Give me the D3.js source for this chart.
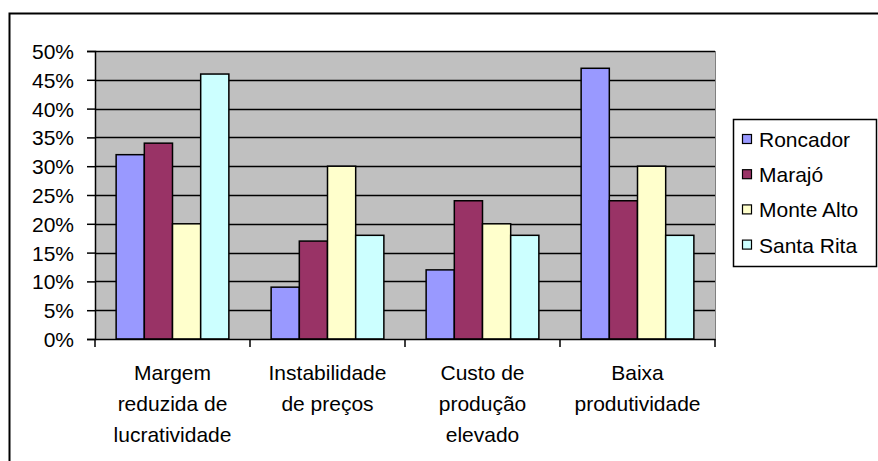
<!DOCTYPE html>
<html>
<head>
<meta charset="utf-8">
<script src="https://cdn.jsdelivr.net/npm/d3@7"></script>
<style>
  html, body { margin: 0; padding: 0; background: #fff; }
  svg { display: block; font-family: "Liberation Sans", Arial, sans-serif; }
</style>
</head>
<body>
<svg id="chart" width="878" height="461"></svg>
<script>
const categories = [
  ["Margem", "reduzida de", "lucratividade"],
  ["Instabilidade", "de preços"],
  ["Custo de", "produção", "elevado"],
  ["Baixa", "produtividade"]
];
const seriesNames = ["Roncador", "Marajó", "Monte Alto", "Santa Rita"];
const seriesColors = ["#9999FF", "#993366", "#FFFFCC", "#CCFFFF"];
const roncador  = [32, 9, 12, 47];
const marajo    = [34, 17, 24, 24];
const monteAlto = [20, 30, 20, 30];
const santaRita = [46, 18, 18, 18];
const yTicks = [0, 5, 10, 15, 20, 25, 30, 35, 40, 45, 50];

const seriesValues = [roncador, marajo, monteAlto, santaRita];
const svg = d3.select("#chart");
const FS = 21;

// outer chart border
svg.append("rect").attr("x", 9.5).attr("y", 13.5).attr("width", 878).attr("height", 460)
  .attr("fill", "#fff").attr("stroke", "#000").attr("stroke-width", 2);

const plot = { left: 95, top: 51, right: 715, bottom: 339 };
const catIdx = categories.map((d, i) => i);
const x0 = d3.scaleBand().domain(catIdx).range([plot.left, plot.right]).paddingInner(0).paddingOuter(0);
// gap width 150%: bar = band / (n + 1.5)
const x1 = d3.scaleBand().domain(d3.range(seriesNames.length))
  .range([x0.bandwidth() * 0.75 / 5.5, x0.bandwidth() * (4.75 / 5.5)])
  .paddingInner(0).paddingOuter(0);
const y = d3.scaleLinear().domain([0, 50]).range([plot.bottom, plot.top]);

// plot background
svg.append("rect").attr("x", plot.left).attr("y", plot.top)
  .attr("width", plot.right - plot.left).attr("height", plot.bottom - plot.top)
  .attr("fill", "#C0C0C0");

// gridlines
svg.append("g").selectAll("line").data(yTicks.filter(t => t > 0)).join("line")
  .attr("x1", plot.left).attr("x2", plot.right)
  .attr("y1", d => Math.round(y(d)) + 0.5).attr("y2", d => Math.round(y(d)) + 0.5)
  .attr("stroke", "#000").attr("stroke-width", 1.5);

// plot right border grey
svg.append("line").attr("x1", plot.right + 0.5).attr("x2", plot.right + 0.5)
  .attr("y1", plot.top).attr("y2", plot.bottom).attr("stroke", "#808080").attr("stroke-width", 1);

// bars
seriesValues.forEach((vals, s) => {
  svg.append("g").selectAll("rect").data(vals).join("rect")
    .attr("x", (d, i) => x0(i) + x1(s))
    .attr("width", x1.bandwidth())
    .attr("y", d => y(d))
    .attr("height", d => y(0) - y(d))
    .attr("fill", seriesColors[s])
    .attr("stroke", "#000").attr("stroke-width", 1.5);
});

// y axis
const yAxis = d3.axisLeft(y).tickValues(yTicks).tickFormat(d => d + "%").tickSize(8).tickPadding(13);
const gy = svg.append("g").attr("transform", `translate(${plot.left},0)`).call(yAxis);
gy.select(".domain").attr("stroke", "#000").attr("stroke-width", 1.5);
gy.selectAll(".tick line").attr("stroke", "#000").attr("stroke-width", 1.5);
gy.selectAll(".tick text").attr("font-size", FS).attr("fill", "#000").attr("dy", "0.36em")
  .attr("font-family", "Liberation Sans, Arial, sans-serif");

// x axis
const xAxis = d3.axisBottom(x0).tickValues([]).tickSize(0);
const gx = svg.append("g").attr("transform", `translate(0,${plot.bottom})`).call(xAxis);
gx.select(".domain").attr("stroke", "#000").attr("stroke-width", 1.5);
gx.selectAll("line.cat").data(d3.range(categories.length + 1)).join("line")
  .attr("class", "cat")
  .attr("x1", d => d < categories.length ? x0(d) : plot.right)
  .attr("x2", d => d < categories.length ? x0(d) : plot.right)
  .attr("y1", 0).attr("y2", 8).attr("stroke", "#000").attr("stroke-width", 1.5);

const labels = svg.append("g");
categories.forEach((lines, i) => {
  const t = labels.append("text").attr("text-anchor", "middle")
    .attr("font-size", FS).attr("fill", "#000");
  lines.forEach((ln, j) => {
    t.append("tspan").attr("x", x0(i) + x0.bandwidth() / 2).attr("y", 380 + j * 31).text(ln);
  });
});

// legend
const leg = svg.append("g");
leg.append("rect").attr("x", 733.5).attr("y", 119.5).attr("width", 143).attr("height", 147)
  .attr("fill", "#fff").attr("stroke", "#000").attr("stroke-width", 1.5);
seriesNames.forEach((name, i) => {
  const base = 147 + i * 35.2;
  leg.append("rect").attr("x", 742.5).attr("y", base - 12.5).attr("width", 9).attr("height", 9)
    .attr("fill", seriesColors[i]).attr("stroke", "#000").attr("stroke-width", 1.2);
  leg.append("text").attr("x", 759).attr("y", base).attr("font-size", FS).attr("fill", "#000").text(name);
});
</script>
</body>
</html>
